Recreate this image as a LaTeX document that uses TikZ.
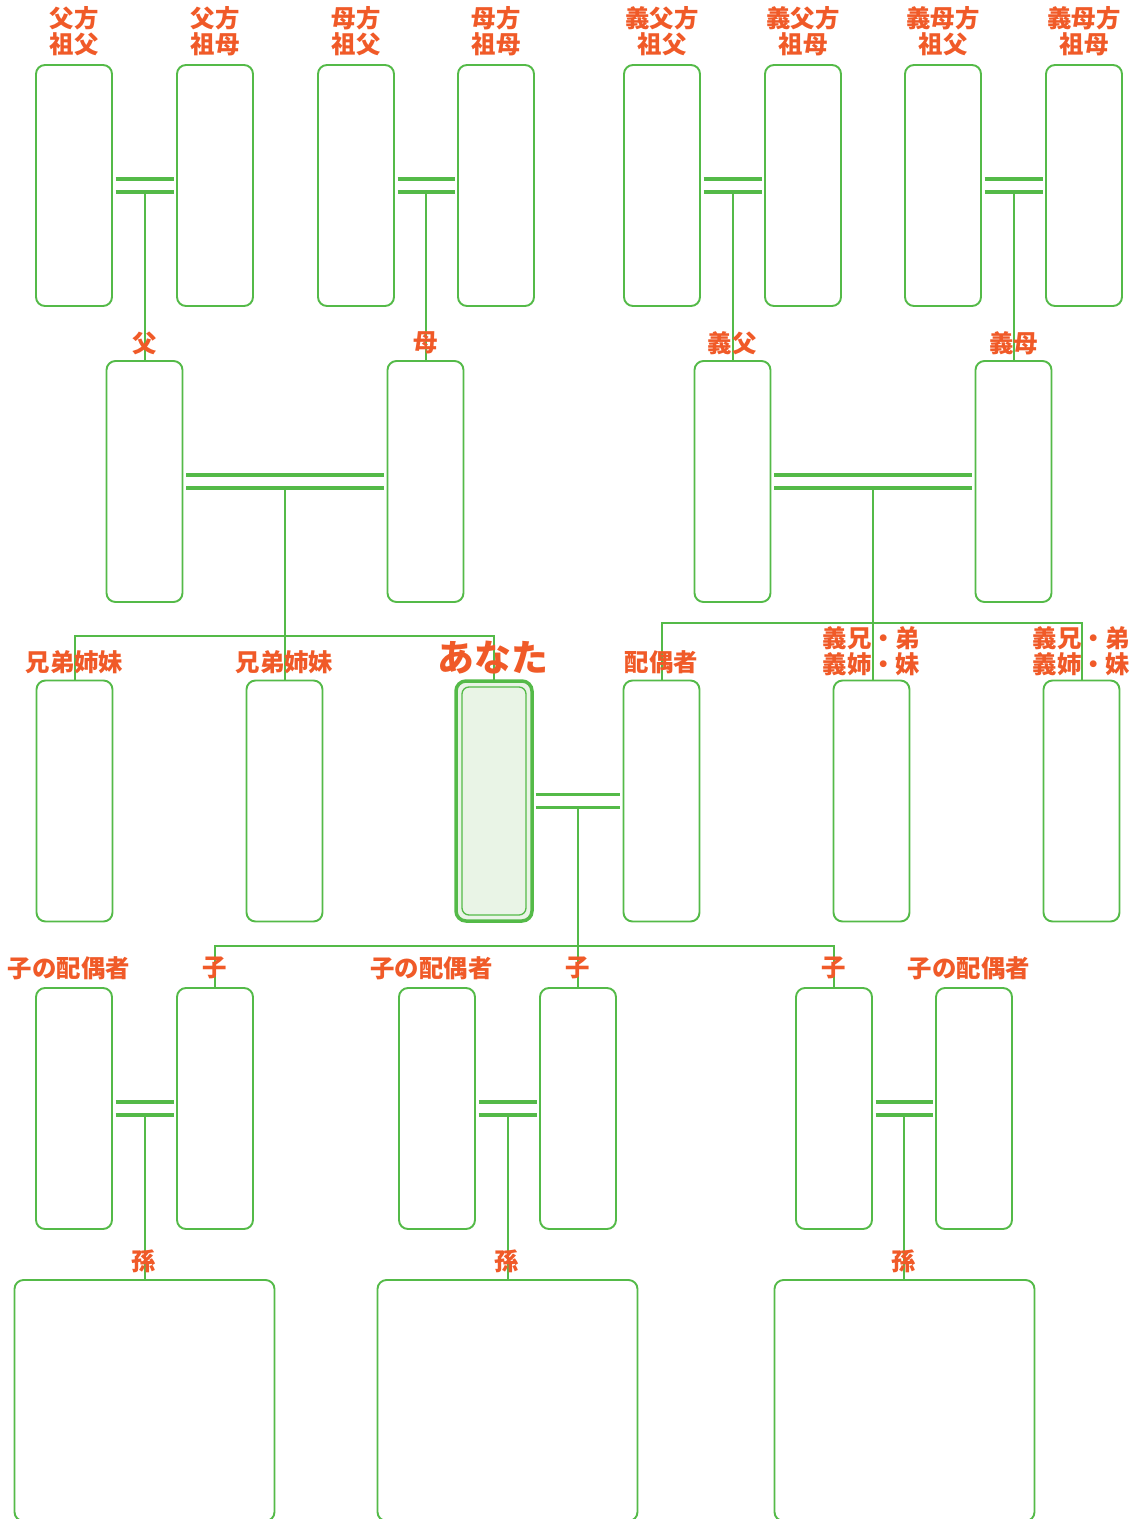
\documentclass[tikz,border=0pt]{standalone}
\usepackage{fontspec}
\newfontfamily\jp{Noto Sans CJK JP}
\usetikzlibrary{calc}
\definecolor{lgreen}{RGB}{84,186,72}
\definecolor{lorange}{RGB}{240,90,40}
\definecolor{youfill}{RGB}{233,244,230}
\tikzset{
  pbox/.style={draw=lgreen, line width=1.9bp, rounded corners=9bp, fill=white,
    minimum width=76bp, minimum height=241bp, inner sep=0pt, outer sep=0pt},
  gbox/.style={pbox, minimum width=260bp},
  youbox/.style={draw=lgreen, line width=3.5bp, rounded corners=10bp, fill=youfill,
    minimum width=76bp, minimum height=240bp, inner sep=0pt, outer sep=0pt},
  conn/.style={draw=lgreen, line width=2bp},
  wed/.style={draw=lgreen, line width=3.8bp},
  lbl/.style={text=lorange, font=\jp\bfseries\fontsize{24.5}{26.2}\selectfont, inner sep=0pt, align=center},
  biglbl/.style={text=lorange, font=\jp\bfseries\fontsize{37}{40}\selectfont, inner sep=0pt}
}
\begin{document}
\begin{tikzpicture}[x=1bp,y=-1bp]
\useasboundingbox (0,0) rectangle (1144,1519);
\clip (0,0) rectangle (1144,1519);
% row 1
\node[pbox] (pgf) at (74,185.5) {};
\node[pbox] (pgm) at (215,185.5) {};
\node[pbox] (mgf) at (356,185.5) {};
\node[pbox] (mgm) at (496,185.5) {};
\node[pbox] (ipgf) at (662,185.5) {};
\node[pbox] (ipgm) at (803,185.5) {};
\node[pbox] (imgf) at (943,185.5) {};
\node[pbox] (imgm) at (1084,185.5) {};
% row 2
\node[pbox] (fa) at (144.5,481.5) {};
\node[pbox] (mo) at (425.5,481.5) {};
\node[pbox] (ifa) at (732.5,481.5) {};
\node[pbox] (imo) at (1013.5,481.5) {};
% row 3
\node[pbox] (sib1) at (74.5,801) {};
\node[pbox] (sib2) at (284.5,801) {};
\node[youbox] (you) at (494,801) {};
\node[draw=lgreen, line width=1.3bp, rounded corners=7bp, minimum width=64bp, minimum height=228bp, inner sep=0pt, outer sep=0pt] (youin) at (you.center) {};
\node[pbox] (sp) at (661.5,801) {};
\node[pbox] (is1) at (871.5,801) {};
\node[pbox] (is2) at (1081.5,801) {};
% row 4
\node[pbox] (c1sp) at (74,1108.5) {};
\node[pbox] (c1) at (215,1108.5) {};
\node[pbox] (c2sp) at (437,1108.5) {};
\node[pbox] (c2) at (578,1108.5) {};
\node[pbox] (c3) at (834,1108.5) {};
\node[pbox] (c3sp) at (974,1108.5) {};
% row 5
\node[gbox] (g1) at (144.5,1400.5) {};
\node[gbox] (g2) at (507.5,1400.5) {};
\node[gbox] (g3) at (904.5,1400.5) {};
% marriages
\foreach \a/\b/\m in {pgf/pgm/m1, mgf/mgm/m2, ipgf/ipgm/m3, imgf/imgm/m4, fa/mo/m5, ifa/imo/m6, you/sp/m7, c1sp/c1/m8, c2sp/c2/m9, c3/c3sp/m10}{
  \draw[wed] ([xshift=3.5bp,yshift=6.5bp]\a.east) -- ([xshift=-3.5bp,yshift=6.5bp]\b.west);
  \draw[wed] ([xshift=3.5bp,yshift=-6.5bp]\a.east) -- ([xshift=-3.5bp,yshift=-6.5bp]\b.west);
  \coordinate (\m) at ($(\a.east)!0.5!(\b.west)+(0,6.5)$);
}
% descents
\draw[conn] (m1) -- (m1 |- fa.north);
\draw[conn] (m2) -- (m2 |- mo.north);
\draw[conn] (m3) -- (m3 |- ifa.north);
\draw[conn] (m4) -- (m4 |- imo.north);
\coordinate (sbar) at (0,635.5);
\draw[conn] (m5) -- (m5 |- sib2.north);
\draw[conn] (sib1.north) -- (sib1.north |- sbar) -- (you.north |- sbar) -- (you.north);
\coordinate (ibar) at (0,622.5);
\draw[conn] (m6) -- (m6 |- is1.north);
\draw[conn] (sp.north) -- (sp.north |- ibar) -- (is2.north |- ibar) -- (is2.north);
\coordinate (cbar) at (0,945.5);
\draw[conn] (m7) -- (m7 |- c2.north);
\draw[conn] (c1.north) -- (c1.north |- cbar) -- (c3.north |- cbar) -- (c3.north);
\draw[conn] (m8) -- (m8 |- g1.north);
\draw[conn] (m9) -- (m9 |- g2.north);
\draw[conn] (m10) -- (m10 |- g3.north);
% labels row 1
\node[lbl] (l1) at (74,31) {父方\\祖父};
\node[lbl] (l2) at (215,31) {父方\\祖母};
\node[lbl] (l3) at (356,31) {母方\\祖父};
\node[lbl] (l4) at (496,31) {母方\\祖母};
\node[lbl] (l5) at (662,31) {義父方\\祖父};
\node[lbl] (l6) at (803,31) {義父方\\祖母};
\node[lbl] (l7) at (943,31) {義母方\\祖父};
\node[lbl] (l8) at (1084,31) {義母方\\祖母};
% row 2
\node[lbl] (l9) at (144.5,343) {父};
\node[lbl] (l10) at (425.5,343) {母};
\node[lbl] (l11) at (732,343) {義父};
\node[lbl] (l12) at (1013.5,343) {義母};
% row 3
\node[lbl] (l13) at (74.5,662) {兄弟姉妹};
\node[lbl] (l14) at (284.5,662) {兄弟姉妹};
\node[biglbl] (l15) at (493,658) {あなた};
\node[lbl] (l16) at (661.5,662) {配偶者};
\node[lbl] (l17) at (871.5,651) {義兄・弟\\義姉・妹};
\node[lbl] (l18) at (1081.5,651) {義兄・弟\\義姉・妹};
% row 4
\node[lbl] (l19) at (69,968) {子の配偶者};
\node[lbl] (l20) at (215,968) {子};
\node[lbl] (l21) at (431.5,968) {子の配偶者};
\node[lbl] (l22) at (578,968) {子};
\node[lbl] (l23) at (834,968) {子};
\node[lbl] (l24) at (969,968) {子の配偶者};
% row 5
\node[lbl] (l25) at (144,1261) {孫};
\node[lbl] (l26) at (507,1261) {孫};
\node[lbl] (l27) at (904,1261) {孫};
\end{tikzpicture}
\end{document}
